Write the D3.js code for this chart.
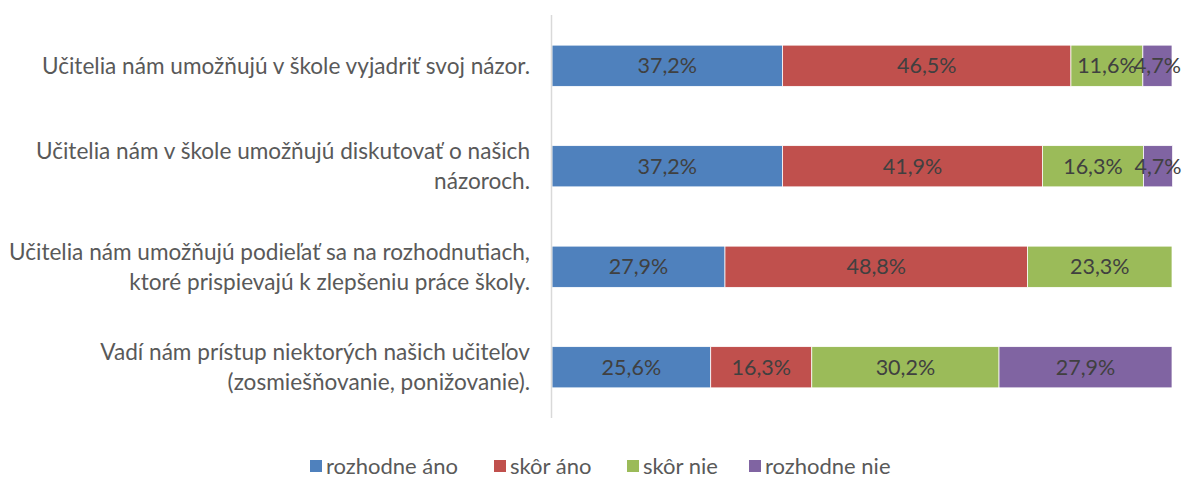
<!DOCTYPE html>
<html>
<head>
<meta charset="utf-8">
<script src="https://cdn.jsdelivr.net/npm/d3@7"></script>
<style>
  body { margin: 0; background: #fff; }
  text { font-family: Lato, "Open Sans", sans-serif; }
</style>
</head>
<body>
<div id="fig"></div>
<script>
// categories (each entry = lines of the label)
var categories = [
  ["Učitelia nám umožňujú v škole vyjadriť svoj názor."],
  ["Učitelia nám v škole umožňujú diskutovať o našich", "názoroch."],
  ["Učitelia nám umožňujú podieľať sa na rozhodnutiach,", "ktoré prispievajú k zlepšeniu práce školy."],
  ["Vadí nám prístup niektorých našich učiteľov", "(zosmiešňovanie, ponižovanie)."]
];
var seriesNames = ["rozhodne áno", "skôr áno", "skôr nie", "rozhodne nie"];
var rozhodneAno = [37.2, 37.2, 27.9, 25.6];
var skorAno = [46.5, 41.9, 48.8, 16.3];
var skorNie = [11.6, 16.3, 23.3, 30.2];
var rozhodneNie = [4.7, 4.7, 0, 27.9];
var colors = ["#4F81BD", "#C0504D", "#9BBB59", "#8064A2"];

var width = 1187, height = 478;
var margin = {top: 15, right: 15, bottom: 60, left: 552};

var svg = d3.select("#fig").append("svg")
    .attr("width", width)
    .attr("height", height);

var rows = categories.map(function(c, i) {
  return {i: i, label: c, values: [rozhodneAno[i], skorAno[i], skorNie[i], rozhodneNie[i]]};
});

var y = d3.scaleBand()
    .domain(d3.range(categories.length))
    .range([margin.top, height - margin.bottom])
    .paddingInner(0.59)
    .paddingOuter(0.3);

var x = d3.scaleLinear()
    .domain([0, 100])
    .range([margin.left, width - margin.right]);

// bars
var groups = svg.append("g").selectAll("g")
  .data(rows)
  .enter().append("g");

groups.each(function(d) {
  var g = d3.select(this);
  var cum = 0;
  var segs = d.values.map(function(v, k) {
    var s = {k: k, v: v, x0: cum};
    cum += v;
    return s;
  }).filter(function(s) { return s.v > 0; });

  g.selectAll("rect")
    .data(segs)
    .enter().append("rect")
      .attr("x", function(s) { return x(s.x0); })
      .attr("y", y(d.i))
      .attr("width", function(s) { return x(s.x0 + s.v) - x(s.x0); })
      .attr("height", y.bandwidth())
      .attr("fill", function(s) { return colors[s.k]; })
      .attr("stroke", "#fff")
      .attr("stroke-width", 0.75);

  g.selectAll("text.val")
    .data(segs)
    .enter().append("text")
      .attr("class", "val")
      .attr("x", function(s) { return (x(s.x0) + x(s.x0 + s.v)) / 2; })
      .attr("y", y(d.i) + y.bandwidth() / 2)
      .attr("dy", "0.35em")
      .attr("text-anchor", "middle")
      .style("font-size", "21.5px")
      .style("fill", "#404040")
      .text(function(s) { return s.v.toFixed(1).replace(".", ",") + "%"; });
});

// category axis line
svg.append("line")
  .attr("x1", margin.left - 0.5).attr("x2", margin.left - 0.5)
  .attr("y1", margin.top).attr("y2", height - margin.bottom)
  .attr("stroke", "#d9d9d9")
  .attr("stroke-width", 1.5);

// category labels
var labels = svg.append("g").selectAll("text")
  .data(rows)
  .enter().append("text")
    .attr("x", 530)
    .attr("text-anchor", "end")
    .style("font-size", "22.6px")
    .style("fill", "#595959")
    .attr("y", function(d) {
      var n = d.label.length;
      return y(d.i) + y.bandwidth() / 2 - (n - 1) * 15;
    });

labels.selectAll("tspan")
  .data(function(d) { return d.label; })
  .enter().append("tspan")
    .attr("x", 530)
    .attr("dy", function(t, j) { return j === 0 ? "0.35em" : "30px"; })
    .text(function(t) { return t; });

// legend
var legendX = [310, 494, 627, 749];
var legend = svg.append("g").selectAll("g")
  .data(seriesNames)
  .enter().append("g")
    .attr("transform", function(d, i) { return "translate(" + legendX[i] + ",466)"; });

legend.append("rect")
  .attr("x", 0).attr("y", -6)
  .attr("width", 12).attr("height", 12)
  .attr("fill", function(d, i) { return colors[i]; });

legend.append("text")
  .attr("x", 16)
  .attr("dy", "0.35em")
  .style("font-size", "22px")
  .style("fill", "#595959")
  .text(function(d) { return d; });
</script>
</body>
</html>
